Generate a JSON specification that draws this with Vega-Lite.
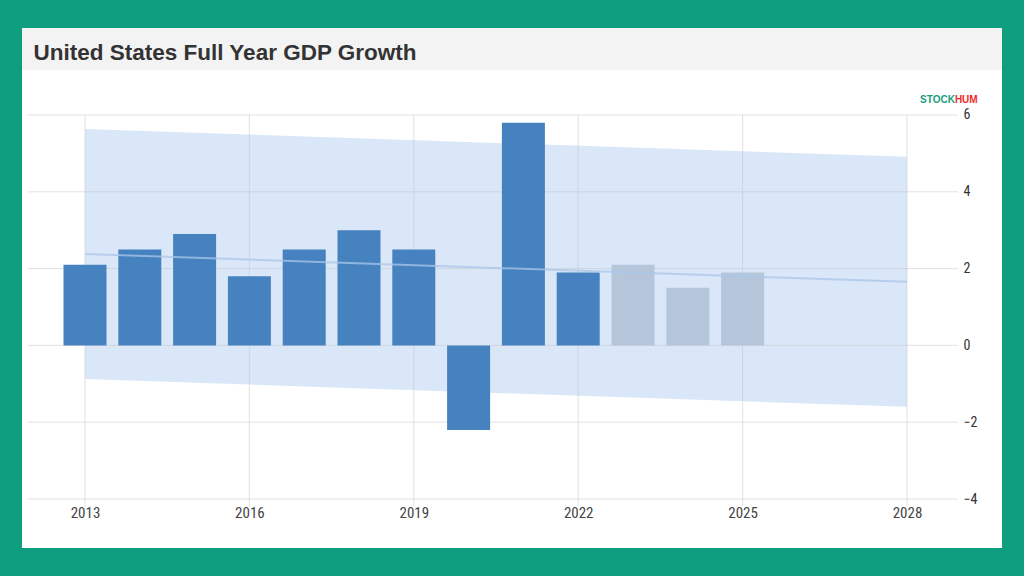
{
  "$schema": "https://vega.github.io/schema/vega-lite/v6.json",
  "width": 980,
  "height": 520,
  "autosize": {"type": "none"},
  "padding": {"left": 22, "top": 28, "right": 22, "bottom": 28},
  "background": "#0f9d80",
  "view": {"fill": "#ffffff", "stroke": null},
  "config": {"font": "Liberation Sans"},
  "resolve": {"axis": {"x": "independent", "y": "independent"}},
  "datasets": {
    "gdp": [
      {"year": 2013, "value": 2.1, "type": "Actual"},
      {"year": 2014, "value": 2.5, "type": "Actual"},
      {"year": 2015, "value": 2.9, "type": "Actual"},
      {"year": 2016, "value": 1.8, "type": "Actual"},
      {"year": 2017, "value": 2.5, "type": "Actual"},
      {"year": 2018, "value": 3.0, "type": "Actual"},
      {"year": 2019, "value": 2.5, "type": "Actual"},
      {"year": 2020, "value": -2.2, "type": "Actual"},
      {"year": 2021, "value": 5.8, "type": "Actual"},
      {"year": 2022, "value": 1.9, "type": "Actual"},
      {"year": 2023, "value": 2.1, "type": "Forecast"},
      {"year": 2024, "value": 1.5, "type": "Forecast"},
      {"year": 2025, "value": 1.9, "type": "Forecast"}
    ],
    "band": [
      {"year": 2013, "lo": -0.875, "hi": 5.635, "trend": 2.38},
      {"year": 2028, "lo": -1.6, "hi": 4.91, "trend": 1.655}
    ],
    "hgrid": [{"v": -4}, {"v": -2}, {"v": 0}, {"v": 2}, {"v": 4}, {"v": 6}],
    "vgrid": [{"year": 2013}, {"year": 2016}, {"year": 2019}, {"year": 2022}, {"year": 2025}, {"year": 2028}],
    "header": [{"title": "United States Full Year GDP Growth", "brand1": "STOCK", "brand2": "HUM"}]
  },
  "layer": [
    {
      "data": {"name": "header"},
      "mark": {"type": "rect", "color": "#f3f3f3"},
      "encoding": {
        "x": {"datum": 2011.8504, "type": "quantitative", "scale": {"domain": [2011.8504, 2029.7336], "nice": false, "zero": false, "padding": 0}, "axis": null},
        "x2": {"datum": 2029.7336},
        "y": {"datum": 7.172, "type": "quantitative", "scale": {"domain": [-5.276, 8.2656], "nice": false, "zero": false}, "axis": null},
        "y2": {"datum": 8.2656}
      }
    },
    {
      "data": {"name": "header"},
      "mark": {"type": "text", "align": "left", "baseline": "alphabetic", "fontSize": 22.5, "fontWeight": "bold", "color": "#333333", "font": "Liberation Sans"},
      "encoding": {
        "x": {"datum": 2012.06, "type": "quantitative", "scale": {"domain": [2011.8504, 2029.7336], "nice": false, "zero": false, "padding": 0}, "axis": null},
        "y": {"datum": 7.43, "type": "quantitative", "scale": {"domain": [-5.276, 8.2656], "nice": false, "zero": false}, "axis": null},
        "text": {"field": "title"}
      }
    },
    {
      "data": {"name": "header"},
      "mark": {"type": "text", "align": "right", "baseline": "middle", "fontSize": 10, "fontWeight": "bold", "color": "#1a9e7e", "font": "Liberation Sans"},
      "encoding": {
        "x": {"datum": 2028.874, "type": "quantitative", "scale": {"domain": [2011.8504, 2029.7336], "nice": false, "zero": false, "padding": 0}, "axis": null},
        "y": {"datum": 6.4, "type": "quantitative", "scale": {"domain": [-5.276, 8.2656], "nice": false, "zero": false}, "axis": null},
        "text": {"field": "brand1"}
      }
    },
    {
      "data": {"name": "header"},
      "mark": {"type": "text", "align": "left", "baseline": "middle", "fontSize": 10, "fontWeight": "bold", "color": "#ee2a2a", "font": "Liberation Sans"},
      "encoding": {
        "x": {"datum": 2028.874, "type": "quantitative", "scale": {"domain": [2011.8504, 2029.7336], "nice": false, "zero": false, "padding": 0}, "axis": null},
        "y": {"datum": 6.4, "type": "quantitative", "scale": {"domain": [-5.276, 8.2656], "nice": false, "zero": false}, "axis": null},
        "text": {"field": "brand2"}
      }
    },
    {
      "data": {"name": "band"},
      "mark": {"type": "area", "color": "#d9e7f8", "opacity": 1},
      "encoding": {
        "x": {"field": "year", "type": "quantitative", "scale": {"domain": [2011.8504, 2029.7336], "nice": false, "zero": false, "padding": 0}, "axis": null},
        "y": {"field": "lo", "type": "quantitative", "scale": {"domain": [-5.276, 8.2656], "nice": false, "zero": false}, "axis": null},
        "y2": {"field": "hi"}
      }
    },
    {
      "data": {"name": "hgrid"},
      "mark": {"type": "rule", "color": "#c6c6c6", "opacity": 0.5, "strokeWidth": 1},
      "encoding": {
        "x": {"datum": 2011.96, "type": "quantitative", "scale": {"domain": [2011.8504, 2029.7336], "nice": false, "zero": false, "padding": 0}, "axis": null},
        "x2": {"datum": 2028.93},
        "y": {"field": "v", "type": "quantitative", "scale": {"domain": [-5.276, 8.2656], "nice": false, "zero": false}, "axis": null}
      }
    },
    {
      "data": {"name": "vgrid"},
      "mark": {"type": "rule", "color": "#c6c6c6", "opacity": 0.5, "strokeWidth": 1},
      "encoding": {
        "x": {"field": "year", "type": "quantitative", "scale": {"domain": [2011.8504, 2029.7336], "nice": false, "zero": false, "padding": 0}, "axis": null},
        "y": {"datum": -4.2, "type": "quantitative", "scale": {"domain": [-5.276, 8.2656], "nice": false, "zero": false}, "axis": null},
        "y2": {"datum": 6.0}
      }
    },
    {
      "data": {"name": "gdp"},
      "mark": {"type": "bar", "width": 43},
      "encoding": {
        "x": {
          "field": "year", "type": "quantitative",
          "scale": {"domain": [2011.8504, 2029.7336], "nice": false, "zero": false, "padding": 0},
          "axis": {"values": [2013, 2016, 2019, 2022, 2025, 2028], "format": "d", "title": null, "grid": false, "domain": false, "ticks": false, "labelPadding": 0, "offset": -43, "labelFont": "Liberation Sans Narrow, Roboto Condensed, Liberation Sans", "labelFontSize": 15, "labelColor": "#444444"}
        },
        "y": {
          "field": "value", "type": "quantitative",
          "scale": {"domain": [-5.276, 8.2656], "nice": false, "zero": false},
          "axis": {"orient": "right", "values": [-4, -2, 0, 2, 4, 6], "title": null, "grid": false, "domain": false, "ticks": false, "labelPadding": 0, "offset": -39, "labelFont": "Liberation Sans Narrow, Roboto Condensed, Liberation Sans", "labelFontSize": 14, "labelColor": "#333333"}
        },
        "y2": {"datum": 0},
        "color": {"field": "type", "type": "nominal", "scale": {"domain": ["Actual", "Forecast"], "range": ["#4682c0", "#b5c6da"]}, "legend": null}
      }
    },
    {
      "data": {"name": "band"},
      "mark": {"type": "line", "color": "#a9c6e8", "opacity": 0.75, "strokeWidth": 2},
      "encoding": {
        "x": {"field": "year", "type": "quantitative", "scale": {"domain": [2011.8504, 2029.7336], "nice": false, "zero": false, "padding": 0}, "axis": null},
        "y": {"field": "trend", "type": "quantitative", "scale": {"domain": [-5.276, 8.2656], "nice": false, "zero": false}, "axis": null}
      }
    }
  ]
}
